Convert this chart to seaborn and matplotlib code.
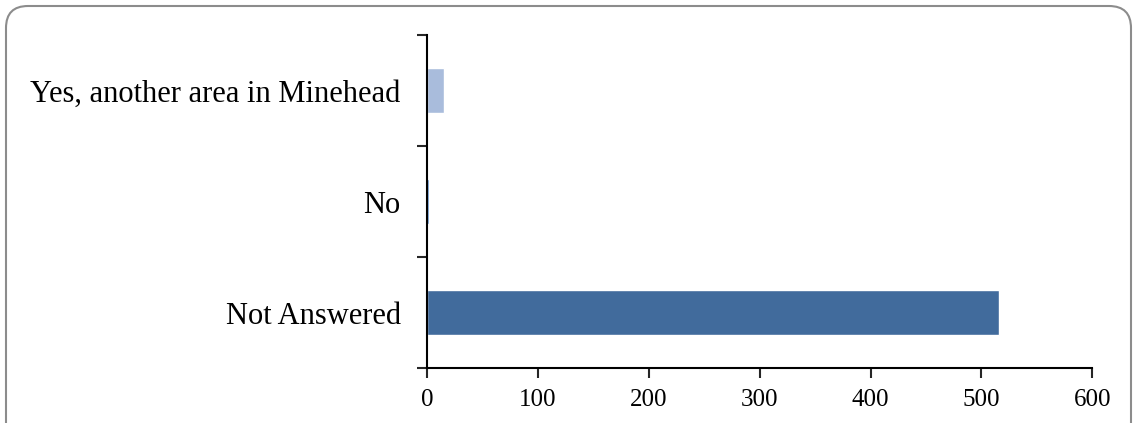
import matplotlib
matplotlib.use("Agg")
import matplotlib.pyplot as plt
import seaborn as sns
import pandas as pd
from matplotlib.patches import FancyBboxPatch

# --- DATA ---
categories = ["Yes, another area in Minehead", "No", "Not Answered"]
counts = [15, 2, 516]
bar_colors = ["#A9BCDC", "#3F7CC4", "#416B9C"]
x_ticks = [0, 100, 200, 300, 400, 500, 600]

df = pd.DataFrame({"answer": categories, "count": counts})

# --- PLOT ---
sns.set_style("white")
plt.rcParams["font.family"] = ["Liberation Serif", "DejaVu Serif"]

fig = plt.figure(figsize=(11.33, 4.23), dpi=100)
ax = fig.add_axes([0.377, 0.13, 0.587, 0.787])

sns.barplot(
    data=df, x="count", y="answer", hue="answer",
    palette=bar_colors, width=0.4, legend=False, ax=ax,
    saturation=1,
)

ax.set_xlim(0, 600)
ax.set_ylim(2.5, -0.5)
ax.set_xticks(x_ticks)
ax.set_xticklabels([str(v) for v in x_ticks], fontsize=18, color="black")
ax.set_yticks(range(len(categories)))
ax.set_yticklabels(categories, fontsize=22, color="black")
ax.tick_params(axis="y", length=0, pad=19)
ax.tick_params(axis="x", length=7, width=1.5, direction="out", pad=8, bottom=True)
# boundary ticks between categories on the y-axis
ax.set_yticks([-0.5, 0.5, 1.5, 2.5], minor=True)
ax.tick_params(axis="y", which="minor", length=7, width=1.5, direction="out", left=True)

ax.set_xlabel("")
ax.set_ylabel("")
sns.despine(ax=ax, top=True, right=True)
for s in ["left", "bottom"]:
    ax.spines[s].set_linewidth(1.5)
    ax.spines[s].set_color("black")

# rounded border around the chart, bottom edge runs off the image
border = FancyBboxPatch(
    (0.06, -1.0), 11.25, 5.17, transform=fig.dpi_scale_trans,
    boxstyle="round,pad=0,rounding_size=0.22",
    facecolor="none", edgecolor="#8C8C8C", linewidth=1.5,
)
fig.patches.append(border)

fig.savefig("out.png", dpi=100)
